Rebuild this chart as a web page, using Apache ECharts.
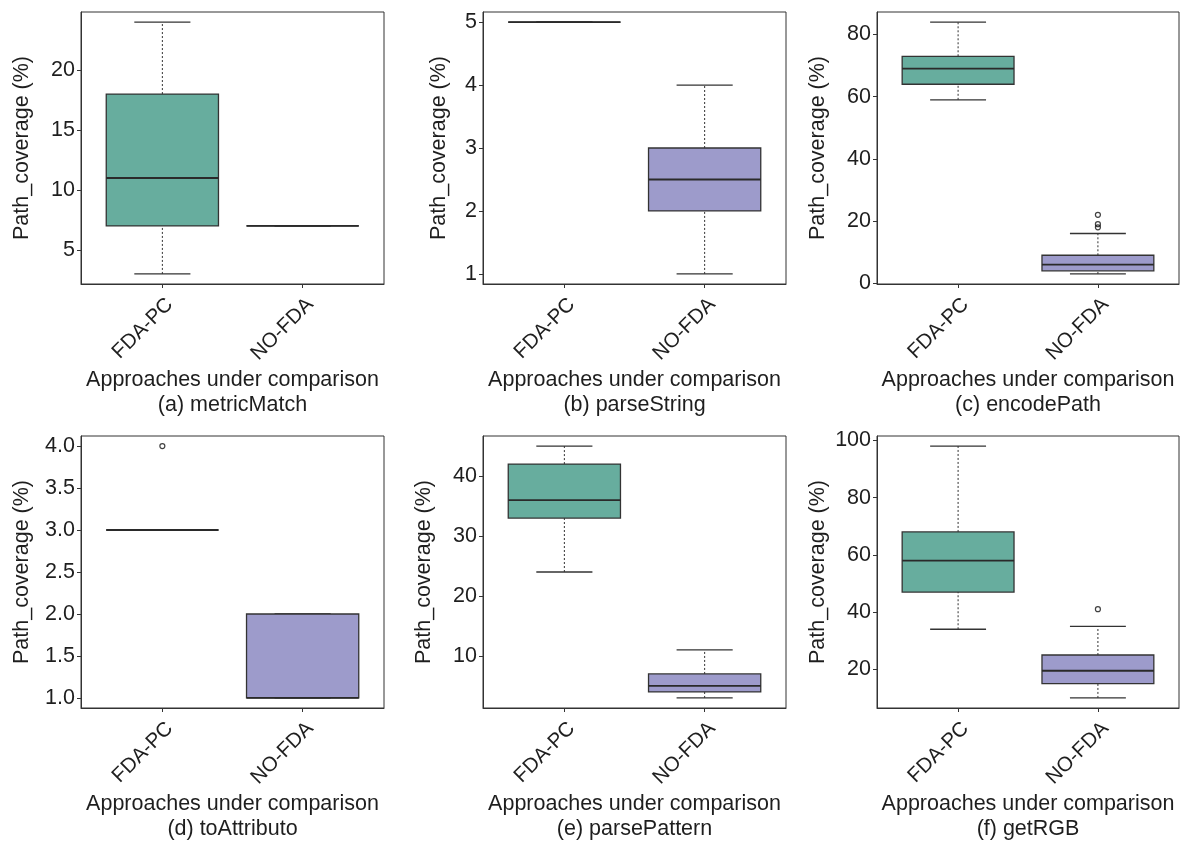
<!DOCTYPE html>
<html>
<head>
<meta charset="utf-8">
<script src="https://cdn.jsdelivr.net/npm/echarts@6/dist/echarts.min.js"></script>
<style>
  html, body { margin: 0; padding: 0; background: #ffffff; }
  #chart { width: 1180px; height: 843px; }
</style>
</head>
<body>
<div id="chart"></div>
<script>
// Path coverage of two approaches over six methods.
const approaches = ['FDA-PC', 'NO-FDA'];
const panelTitles = ['(a) metricMatch', '(b) parseString', '(c) encodePath',
                     '(d) toAttributo', '(e) parsePattern', '(f) getRGB'];

// Five-number summaries per method: [lower whisker, Q1, median, Q3, upper whisker]
const fdaStats = [
  [3, 7, 11, 18, 24],
  [5, 5, 5, 5, 5],
  [59, 64, 69, 73, 84],
  [3, 3, 3, 3, 3],
  [24, 33, 36, 42, 45],
  [34, 47, 58, 68, 98]
];
const noFdaStats = [
  [7, 7, 7, 7, 7],
  [1, 2, 2.5, 3, 4],
  [3, 4, 6, 9, 16],
  [1, 1, 1, 2, 2],
  [3, 4, 5, 7, 11],
  [10, 15, 19.5, 25, 35]
];
// Points beyond the whiskers
const fdaOutliers = [[], [], [], [4], [], []];
const noFdaOutliers = [[], [], [18, 19, 22], [], [], [41]];

// Y-axis tick labels per method
const yTicks = [
  [5, 10, 15, 20],
  [1, 2, 3, 4, 5],
  [0, 20, 40, 60, 80],
  [1.0, 1.5, 2.0, 2.5, 3.0, 3.5, 4.0],
  [10, 20, 30, 40],
  [20, 40, 60, 80, 100]
];

const FONT = 'Liberation Sans, Arial, Helvetica, sans-serif';
const FS = 21.5;
const TEXT = '#1e1e1e';
const LINE = '#333333';
const FILLS = ['#67ad9e', '#9d9bcb'];

const colLeft = [81, 483, 877];
const colWidth = [303, 303, 302];
const rowTop = [12, 436];
const plotHeight = 272;

const grids = [], xAxes = [], yAxes = [], series = [];

for (let p = 0; p < 6; p++) {
  const col = p % 3, row = Math.floor(p / 3);
  const allVals = fdaStats[p].concat(noFdaStats[p], fdaOutliers[p], noFdaOutliers[p]);
  const lo = Math.min.apply(null, allVals), hi = Math.max.apply(null, allVals);
  const pad = (hi - lo) * 0.04;
  const oneDecimal = p === 3;
  const wideLabels = yTicks[p].some(v => String(oneDecimal ? v.toFixed(1) : v).length > 1);

  grids.push({
    left: colLeft[col], top: rowTop[row], width: colWidth[col], height: plotHeight,
    outerBoundsMode: 'none', containLabel: false,
    show: true, borderColor: LINE, borderWidth: 1, backgroundColor: 'transparent'
  });

  xAxes.push({
    gridIndex: p, type: 'value', min: 0.42, max: 2.58,
    name: 'Approaches under comparison\n' + panelTitles[p],
    nameLocation: 'middle', nameGap: 84, nameMoveOverlap: false,
    nameTextStyle: { fontFamily: FONT, fontSize: FS, color: TEXT, lineHeight: 25 },
    axisLine: { show: true, onZero: false, lineStyle: { color: LINE, width: 1 } },
    axisTick: { show: true, customValues: [1, 2], length: 4, lineStyle: { color: LINE } },
    axisLabel: {
      customValues: [1, 2], rotate: 45, margin: 10,
      align: 'right', verticalAlign: 'top',
      fontFamily: FONT, fontSize: 20.5, color: TEXT,
      formatter: v => approaches[Math.round(v) - 1]
    },
    splitLine: { show: false }
  });

  yAxes.push({
    gridIndex: p, type: 'value', min: lo - pad, max: hi + pad,
    name: 'Path_coverage (%)', nameLocation: 'middle', nameGap: wideLabels ? 48 : 33,
    nameMoveOverlap: false,
    nameTextStyle: { fontFamily: FONT, fontSize: FS, color: TEXT },
    axisLine: { show: true, lineStyle: { color: LINE, width: 1 } },
    axisTick: { show: true, customValues: yTicks[p], length: 4, lineStyle: { color: LINE } },
    axisLabel: {
      customValues: yTicks[p], margin: 6,
      fontFamily: FONT, fontSize: FS, color: TEXT,
      formatter: v => oneDecimal ? Number(v).toFixed(1) : String(Math.round(v))
    },
    splitLine: { show: false }
  });

  const boxData = [
    [1].concat(fdaStats[p]),
    [2].concat(noFdaStats[p])
  ];

  series.push({
    type: 'custom', xAxisIndex: p, yAxisIndex: p,
    data: boxData,
    encode: { x: 0, y: [1, 2, 3, 4, 5] },
    renderItem: function (params, api) {
      const x = api.value(0);
      const pLo = api.coord([x, api.value(1)]);
      const pQ1 = api.coord([x, api.value(2)]);
      const pMed = api.coord([x, api.value(3)]);
      const pQ3 = api.coord([x, api.value(4)]);
      const pHi = api.coord([x, api.value(5)]);
      const boxW = api.size([0.8, 0])[0];
      const capW = boxW / 2;
      const cx = pMed[0];
      const dotted = { stroke: LINE, lineWidth: 1, lineDash: [2, 2] };
      const solid = { stroke: LINE, lineWidth: 1.3 };
      return {
        type: 'group',
        children: [
          { type: 'line', shape: { x1: cx, y1: pQ3[1], x2: cx, y2: pHi[1] }, style: dotted },
          { type: 'line', shape: { x1: cx, y1: pLo[1], x2: cx, y2: pQ1[1] }, style: dotted },
          { type: 'line', shape: { x1: cx - capW / 2, y1: pHi[1], x2: cx + capW / 2, y2: pHi[1] }, style: solid },
          { type: 'line', shape: { x1: cx - capW / 2, y1: pLo[1], x2: cx + capW / 2, y2: pLo[1] }, style: solid },
          { type: 'rect', shape: { x: cx - boxW / 2, y: pQ3[1], width: boxW, height: pQ1[1] - pQ3[1] },
            style: { fill: FILLS[params.dataIndex], stroke: LINE, lineWidth: 1.3 } },
          { type: 'line', shape: { x1: cx - boxW / 2, y1: pMed[1], x2: cx + boxW / 2, y2: pMed[1] },
            style: { stroke: '#2a2a2a', lineWidth: 1.8 } }
        ]
      };
    },
    z: 2
  });

  const outlierData = fdaOutliers[p].map(v => [1, v]).concat(noFdaOutliers[p].map(v => [2, v]));
  if (outlierData.length) {
    series.push({
      type: 'scatter', xAxisIndex: p, yAxisIndex: p,
      data: outlierData, symbol: 'circle', symbolSize: 5,
      itemStyle: { color: 'rgba(0,0,0,0)', borderColor: '#111111', borderWidth: 1.2 },
      z: 3
    });
  }
}

const chart = echarts.init(document.getElementById('chart'), null, { renderer: 'canvas' });
chart.setOption({
  animation: false,
  backgroundColor: '#ffffff',
  grid: grids,
  xAxis: xAxes,
  yAxis: yAxes,
  series: series
});
</script>
</body>
</html>
